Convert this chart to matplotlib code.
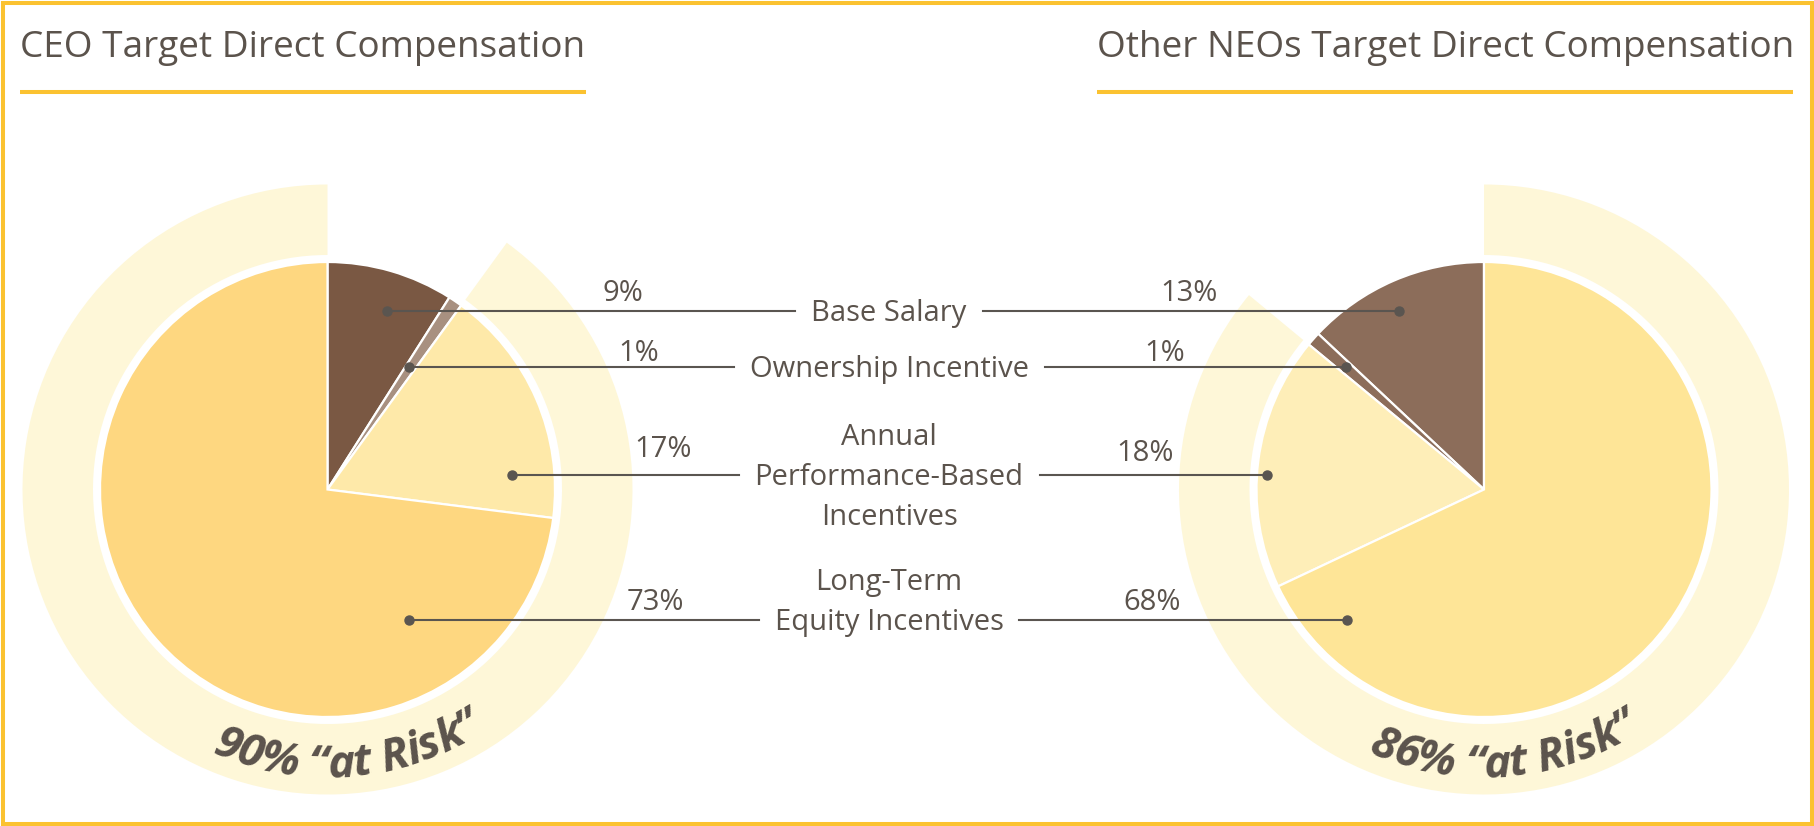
import numpy as np
import matplotlib
matplotlib.use("Agg")
import matplotlib.pyplot as plt

# data
categories = ["Base Salary", "Ownership Incentive",
              "Annual\nPerformance-Based\nIncentives",
              "Long-Term\nEquity Incentives"]
ceo_pct = [9, 1, 17, 73]
neo_pct = [13, 1, 18, 68]
ceo_title = "CEO Target Direct Compensation"
neo_title = "Other NEOs Target Direct Compensation"
ceo_risk = "90% \u201cat Risk\u201d"
neo_risk = "86% \u201cat Risk\u201d"

# colours
TXT = "#5b534c"
GOLD = "#fbc230"
RING = "#fef7d8"
ceo_colors = ["#7a5843", "#a89080", "#fee9a9", "#fed780"]
neo_colors = ["#8c6d5a", "#8c6d5a", "#feeeb8", "#fee597"]

plt.rcParams["font.family"] = ["Open Sans", "DejaVu Sans"]

W, H = 1814, 826


def yi(v):
    # image row -> data y (y axis points up)
    return H - v


fig = plt.figure(figsize=(W / 100, H / 100), dpi=100)
ax = fig.add_axes([0, 0, 1, 1])

# layout (image pixel coords)
ceo_c = (327.5, 489.5)
neo_c = (1484.0, 489.5)
r_pie = 227.5
r_in, r_out = 234.5, 305.0

for c, vals, cols, ccw in [(ceo_c, ceo_pct, ceo_colors, False),
                           (neo_c, neo_pct, neo_colors, True)]:
    center = (c[0], yi(c[1]))
    fixed = vals[0] + vals[1]
    ax.pie([fixed, 100 - fixed], colors=["none", RING], startangle=90,
           counterclock=ccw, radius=r_out, center=center,
           wedgeprops=dict(width=r_out - r_in, linewidth=0))
    ax.pie(vals, colors=cols, startangle=90, counterclock=ccw, radius=r_pie,
           center=center, wedgeprops=dict(edgecolor="white", linewidth=1.6))

ax.set_xlim(0, W)
ax.set_ylim(0, H)
ax.set_aspect("auto")
ax.axis("off")

fig.canvas.draw()
rend = fig.canvas.get_renderer()


def text_w(s, **kw):
    t = ax.text(0, 0, s, **kw)
    w = t.get_window_extent(rend).width
    t.remove()
    return w


def fit_size(s, target, **kw):
    return 10 * target / text_w(s, fontsize=10, **kw)


# titles + underlines
TTL = fit_size(ceo_title, 567)
ax.text(20, yi(57), ceo_title, fontsize=TTL, color=TXT, ha="left", va="baseline")
ax.text(1794, yi(57), neo_title, fontsize=TTL, color=TXT, ha="right", va="baseline")
ax.plot([20, 586], [yi(92), yi(92)], color=GOLD, lw=2.9, solid_capstyle="butt")
ax.plot([1097, 1793], [yi(92), yi(92)], color=GOLD, lw=2.9, solid_capstyle="butt")

# middle labels with connectors
label_x = 889
line_y = [311, 367, 475, 620]
line_row = [0, 0, 1, 1]
row_gap = 40
ceo_dot_x = [387, 409, 512, 409]
neo_dot_x = [1399, 1346, 1267, 1347]
ceo_pct_pos = [(623, 301), (639, 361), (663, 457), (655, 610)]
neo_pct_pos = [(1189, 301), (1165, 361), (1145, 461), (1152, 610)]
LBL = (fit_size("Base Salary", 155) + fit_size("Ownership Incentive", 279)) / 2
cap = 0.714 * LBL * 100 / 72

for i, lab in enumerate(categories):
    rows = lab.split("\n")
    ly = line_y[i]
    for j, row in enumerate(rows):
        base = ly + (j - line_row[i]) * row_gap + cap / 2
        ax.text(label_x, yi(base), row, fontsize=LBL, color=TXT,
                ha="center", va="baseline")
    half = text_w(rows[line_row[i]], fontsize=LBL) / 2
    gap = 16
    ax.plot([ceo_dot_x[i], label_x - half - gap], [yi(ly)] * 2, color="#5a5550", lw=1.5)
    ax.plot([label_x + half + gap, neo_dot_x[i]], [yi(ly)] * 2, color="#5a5550", lw=1.5)
    ax.plot([ceo_dot_x[i], neo_dot_x[i]], [yi(ly)] * 2, ls="none", marker="o",
            ms=6.5, color="#5a5550")
    ax.text(ceo_pct_pos[i][0], yi(ceo_pct_pos[i][1]), f"{ceo_pct[i]}%",
            fontsize=LBL, color=TXT, ha="center", va="baseline")
    ax.text(neo_pct_pos[i][0], yi(neo_pct_pos[i][1]), f"{neo_pct[i]}%",
            fontsize=LBL, color=TXT, ha="center", va="baseline")


# curved "at Risk" text along the ring
def arc_text(s, c, r, mid_deg, **kw):
    bar = text_w("||", **kw)
    widths = [text_w("|" + ch + "|", **kw) - bar for ch in s]
    total = sum(widths)
    pos = 0.0
    for ch, w in zip(s, widths):
        mid = pos + w / 2
        th = np.radians(mid_deg) + (mid - total / 2) / r
        x = c[0] + r * np.cos(th)
        y = yi(c[1]) + r * np.sin(th)
        ax.text(x, y, ch, rotation=np.degrees(th) + 90, rotation_mode="anchor",
                ha="center", va="baseline", **kw)
        pos += w


risk_kw = dict(fontweight="bold", fontstyle="italic", color=TXT)
RSK = fit_size(ceo_risk, 285, **risk_kw)
arc_text(ceo_risk, ceo_c, 288, -85.5, fontsize=RSK, **risk_kw)
arc_text(neo_risk, neo_c, 288, -85.5, fontsize=RSK, **risk_kw)

# gold frame
ax.add_patch(plt.Rectangle((2.5, 2.5), W - 5, H - 5, fill=False, edgecolor=GOLD,
                           lw=2.9, clip_on=False))

fig.savefig("out.png", dpi=100)
